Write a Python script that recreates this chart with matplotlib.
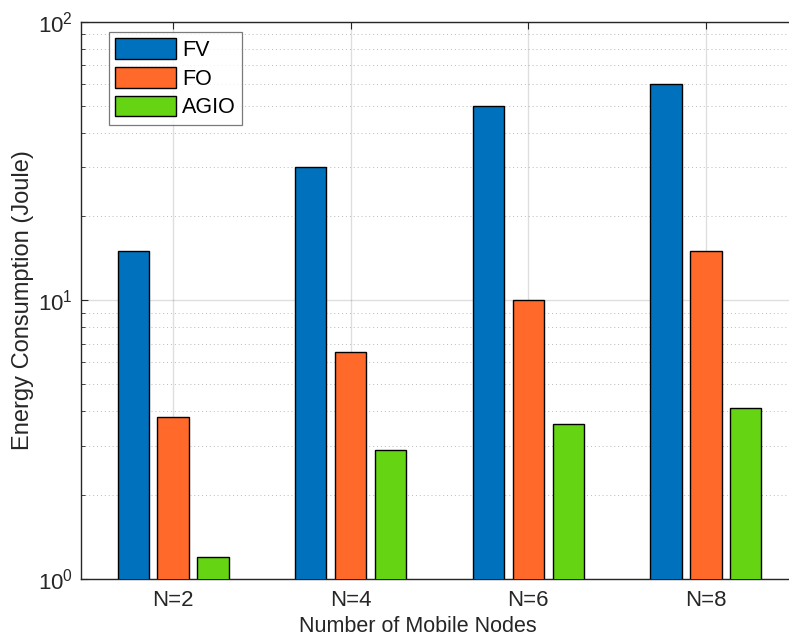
import matplotlib
matplotlib.use("Agg")
import matplotlib.pyplot as plt
import numpy as np
from matplotlib.ticker import LogLocator, NullFormatter, FixedLocator

categories = ["N=2", "N=4", "N=6", "N=8"]
series_names = ["FV", "FO", "AGIO"]
fv = [15, 30, 50, 60]
fo = [3.8, 6.5, 10, 15]
agio = [1.2, 2.9, 3.6, 4.1]
colors = ["#0072BD", "#FF6929", "#64D413"]

plt.rcParams['font.family'] = ['Liberation Sans', 'DejaVu Sans']

W, H = 789, 642
fig = plt.figure(figsize=(W/100, H/100), dpi=100)
left, right, top, bottom = 81, 798, 21.7, 579
ax = fig.add_axes([left/W, 1 - bottom/H, (right-left)/W, (bottom-top)/H])

x = np.arange(1, len(categories) + 1)
width = 0.175
offset = 0.225
gray = (0.15, 0.15, 0.15)
for i, (vals, name) in enumerate(zip([fv, fo, agio], series_names)):
    ax.bar(x + (i - 1) * offset, vals, width, color=colors[i],
           edgecolor="black", linewidth=1.0, label=name, zorder=3)

ax.set_yscale("log")
ax.set_ylim(1, 100)
ax.set_xlim(0.482, 4.518)
ax.set_xticks(x)
ax.set_xticklabels(categories)
ax.yaxis.set_major_locator(FixedLocator([1, 10, 100]))
ax.yaxis.set_minor_locator(LogLocator(base=10, subs=np.arange(2, 10)))
ax.yaxis.set_minor_formatter(NullFormatter())

ax.grid(True, which="major", color=(0.15, 0.15, 0.15), alpha=0.15, linewidth=1.0, zorder=0)
ax.grid(True, which="minor", axis="y", color=(0.1, 0.1, 0.1), alpha=0.3, linestyle=(0, (1, 3)), linewidth=0.7, zorder=0)
ax.set_axisbelow(True)

for s in ["left", "top", "bottom"]:
    ax.spines[s].set_color(gray)
    ax.spines[s].set_linewidth(1.0)
ax.spines["right"].set_visible(False)

ax.tick_params(axis="both", which="both", direction="in", colors=gray, labelsize=16)
ax.tick_params(axis="x", which="major", top=True, length=5, pad=8)
ax.tick_params(axis="y", which="major", length=5, pad=6)
ax.tick_params(axis="y", which="minor", length=3)

ax.set_xlabel("Number of Mobile Nodes", fontsize=15.5, color=gray)
ax.set_ylabel("Energy Consumption (Joule)", fontsize=17, color=gray)
ax.xaxis.set_label_coords((418 - left) / (right - left), -(627 - bottom) / (bottom - top))
ax.yaxis.set_label_coords(-(81 - 23) / (right - left), 0.5)
ax.xaxis.label.set_verticalalignment("center")
ax.yaxis.label.set_verticalalignment("center")

leg = ax.legend(loc="upper left", bbox_to_anchor=((109 - left) / (right - left), 1 - (32 - top) / (bottom - top)),
                fontsize=15.5, frameon=True, fancybox=False, edgecolor=(0.35, 0.35, 0.35),
                handlelength=2.8, handleheight=1.1, borderpad=0.3, labelspacing=0.28, handletextpad=0.3,
                borderaxespad=0)
leg.get_frame().set_linewidth(0.9)
for t in leg.get_texts():
    t.set_color("black")

fig.savefig("out.png", dpi=100)
